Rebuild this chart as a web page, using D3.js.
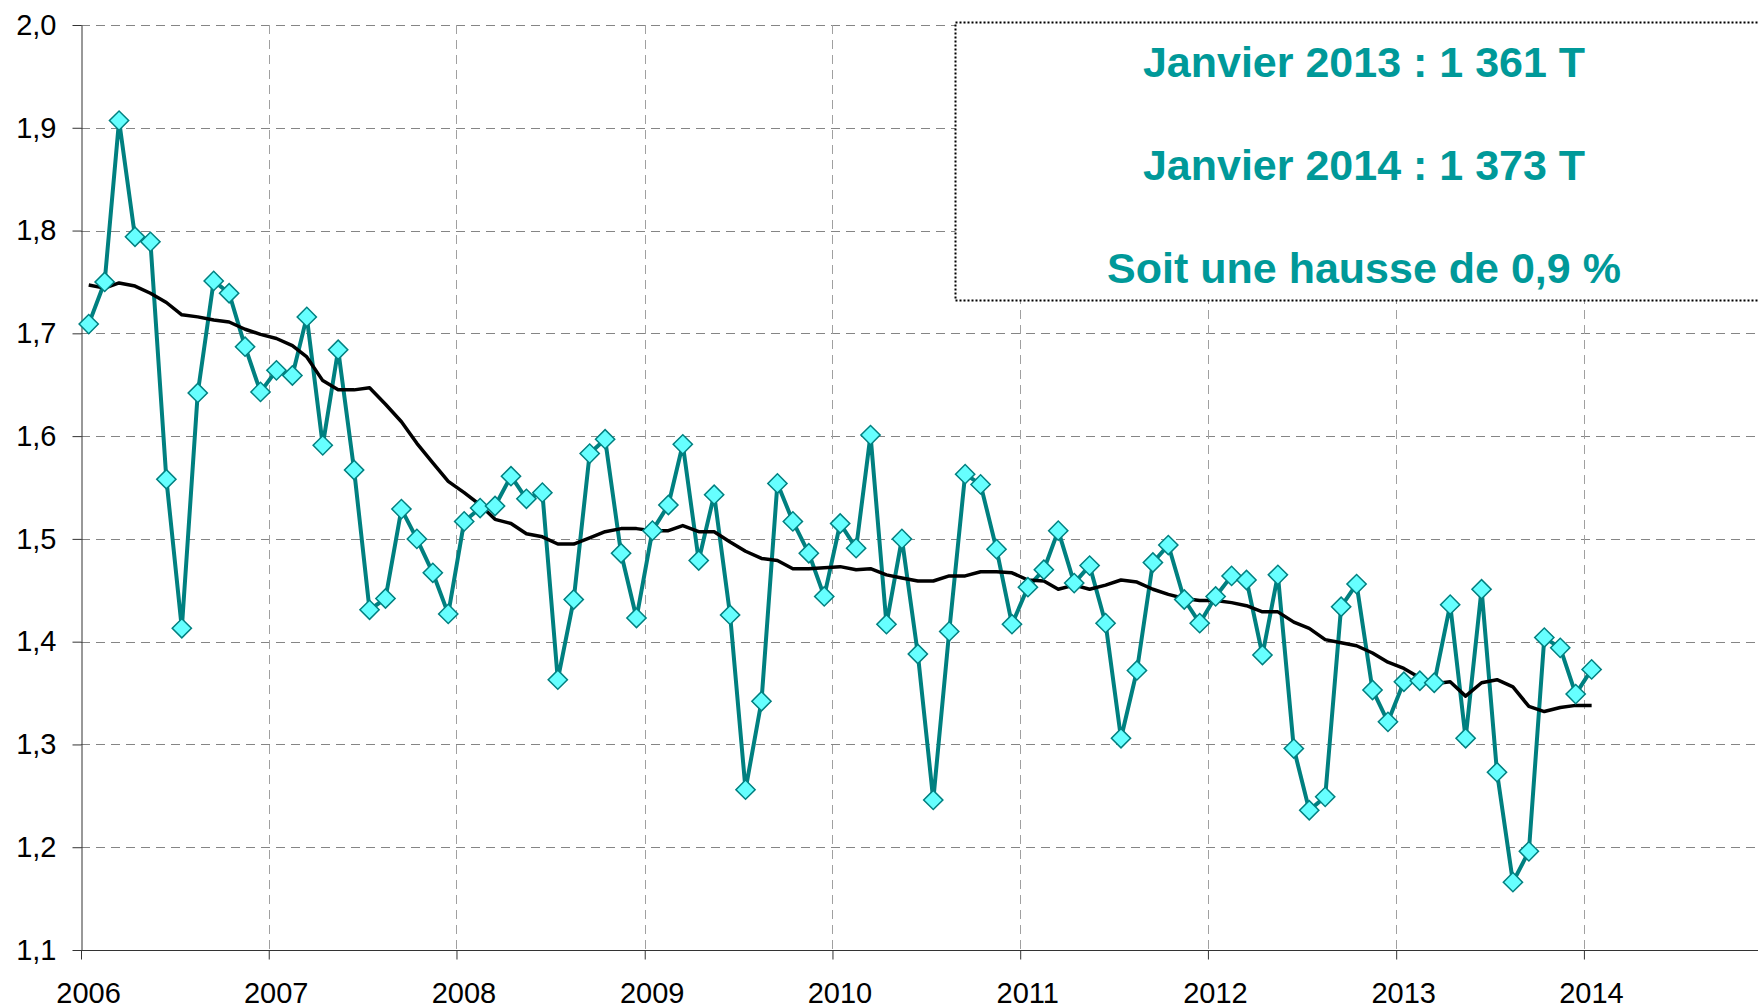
<!DOCTYPE html>
<html>
<head>
<meta charset="utf-8">
<script src="https://cdnjs.cloudflare.com/ajax/libs/d3/7.8.5/d3.min.js"></script>
<style>
  body { margin: 0; background: #fff; }
  svg { display: block; font-family: "Liberation Sans", Arial, sans-serif; }
</style>
</head>
<body>
<svg id="chart" width="1758" height="1008"></svg>
<script>
(function (d3) {
    'use strict';

    // monthly values, Jan 2006 -> Jan 2014
    const valeurs = [
        1.709, 1.750, 1.907, 1.794, 1.789, 1.558, 1.413, 1.642, 1.751, 1.739, 1.687, 1.643,
        1.664, 1.659, 1.716, 1.591, 1.684, 1.567, 1.431, 1.442, 1.529, 1.500, 1.467, 1.427,
        1.517, 1.530, 1.532, 1.561, 1.539, 1.545, 1.363, 1.441, 1.583, 1.597, 1.486, 1.423,
        1.508, 1.533, 1.592, 1.479, 1.543, 1.426, 1.256, 1.342, 1.554, 1.517, 1.486, 1.444,
        1.515, 1.491, 1.601, 1.417, 1.500, 1.388, 1.246, 1.410, 1.563, 1.553, 1.490, 1.417,
        1.453, 1.470, 1.508, 1.457, 1.474, 1.418, 1.306, 1.372, 1.477, 1.494, 1.441, 1.418,
        1.444, 1.464, 1.460, 1.387, 1.465, 1.296, 1.236, 1.249, 1.434, 1.456, 1.353, 1.322,
        1.361, 1.362, 1.360, 1.436, 1.306, 1.451, 1.273, 1.166, 1.196, 1.404, 1.394, 1.349,
        1.373
    ];

    // moyenne mobile (black line)
    const moyenne = [
        1.747, 1.744, 1.749, 1.746, 1.739, 1.730, 1.718, 1.716, 1.713, 1.711, 1.704, 1.699,
        1.695, 1.688, 1.677, 1.654, 1.645, 1.645, 1.647, 1.631, 1.614, 1.593, 1.574, 1.556,
        1.545, 1.533, 1.519, 1.515, 1.505, 1.502, 1.495, 1.495, 1.501, 1.507, 1.510, 1.510,
        1.508, 1.508, 1.513, 1.507, 1.507, 1.497, 1.488, 1.481, 1.479, 1.471, 1.471, 1.472,
        1.473, 1.470, 1.471, 1.465, 1.462, 1.459, 1.459, 1.464, 1.464, 1.468, 1.468, 1.467,
        1.460, 1.459, 1.451, 1.455, 1.451, 1.455, 1.460, 1.458, 1.451, 1.446, 1.442, 1.440,
        1.440, 1.438, 1.435, 1.429, 1.429, 1.419, 1.413, 1.402, 1.399, 1.396, 1.389, 1.380,
        1.374, 1.365, 1.359, 1.361, 1.347, 1.360, 1.363, 1.356, 1.337, 1.332, 1.336, 1.338,
        1.338
    ];

    const annees = ['2006', '2007', '2008', '2009', '2010', '2011', '2012', '2013', '2014'];
    const yTicks = [1.1, 1.2, 1.3, 1.4, 1.5, 1.6, 1.7, 1.8, 1.9, 2.0];
    const encadre = ['Janvier 2013 : 1 361 T', 'Janvier 2014 : 1 373 T', 'Soit une hausse de 0,9 %'];

    const mois = d3.timeMonth.range(new Date(2006, 0, 1), new Date(2014, 1, 1));
    const serie = mois.map((m, i) => ({ date: d3.timeDay.offset(m, 15), v: valeurs[i], mm: moyenne[i] }));

    const svg = d3.select('#chart');
    const left = 81, top = 25, bottom = 950;

    const x = d3.scaleTime()
        .domain([new Date(2006, 0, 1), new Date(2015, 0, 1)])
        .range([left, left + 9 * 187.85]);
    const y = d3.scaleLinear().domain([1.1, 2.0]).range([bottom, top]);

    const yearDates = annees.map(a => new Date(+a, 0, 1));

    // grid
    const grid = svg.append('g').attr('stroke-width', 1).attr('stroke-dasharray', '9,6');
    grid.selectAll('.hg').data(yTicks.slice(1)).enter().append('line')
        .attr('x1', left).attr('x2', 1758)
        .attr('y1', d => Math.round(y(d)) + 0.5).attr('y2', d => Math.round(y(d)) + 0.5)
        .attr('stroke', '#858585');
    grid.selectAll('.vg').data(yearDates.slice(1)).enter().append('line')
        .attr('x1', d => Math.round(x(d)) + 0.5).attr('x2', d => Math.round(x(d)) + 0.5)
        .attr('y1', top).attr('y2', bottom)
        .attr('stroke', '#a0a0a0');

    // axes
    const yAxis = svg.append('g')
        .attr('transform', `translate(${left + 0.5},0)`)
        .call(d3.axisLeft(y).tickValues(yTicks).tickSize(9).tickSizeOuter(0).tickPadding(16)
            .tickFormat(d => d3.format('.1f')(d).replace('.', ',')));

    const xAxis = svg.append('g')
        .attr('transform', `translate(0,${bottom + 0.5})`)
        .call(d3.axisBottom(x).tickValues(yearDates).tickSize(9).tickSizeOuter(0).tickPadding(23)
            .tickFormat((d, i) => annees[i]));
    xAxis.select('.domain').attr('d', `M${left},0H1758`);
    xAxis.selectAll('text').attr('dx', 7);

    [yAxis, xAxis].forEach(a => {
        a.selectAll('.domain, line').attr('stroke', '#333');
        a.selectAll('text').attr('font-size', 29).attr('fill', '#000')
            .attr('font-family', '"Liberation Sans", Arial, sans-serif');
    });

    // lines
    const ligne = d3.line().x(d => x(d.date)).y(d => y(d.v));
    const ligneMM = d3.line().x(d => x(d.date)).y(d => y(d.mm));

    svg.append('path').datum(serie)
        .attr('d', ligne)
        .attr('fill', 'none').attr('stroke', '#008080').attr('stroke-width', 4)
        .attr('stroke-linejoin', 'round');

    svg.append('path').datum(serie)
        .attr('d', ligneMM)
        .attr('fill', 'none').attr('stroke', '#000').attr('stroke-width', 3.5)
        .attr('stroke-linejoin', 'round');

    const losange = d3.symbol().type(d3.symbolSquare).size(185);
    svg.append('g').selectAll('path').data(serie).enter().append('path')
        .attr('d', losange)
        .attr('transform', d => `translate(${x(d.date)},${y(d.v)}) rotate(45)`)
        .attr('fill', '#66ffff').attr('stroke', '#008080').attr('stroke-width', 1.5);

    // annotation box
    svg.append('rect')
        .attr('x', 955.5).attr('y', 22.5).attr('width', 820).attr('height', 278)
        .attr('fill', '#fff').attr('stroke', '#000').attr('stroke-width', 2)
        .attr('stroke-dasharray', '2,2');

    svg.append('g').selectAll('text').data(encadre).enter().append('text')
        .attr('x', 1364).attr('y', (d, i) => 77 + i * 103)
        .attr('text-anchor', 'middle')
        .attr('font-size', 43).attr('font-weight', 'bold')
        .attr('fill', '#009999')
        .text(d => d);

}(d3));
</script>
</body>
</html>
